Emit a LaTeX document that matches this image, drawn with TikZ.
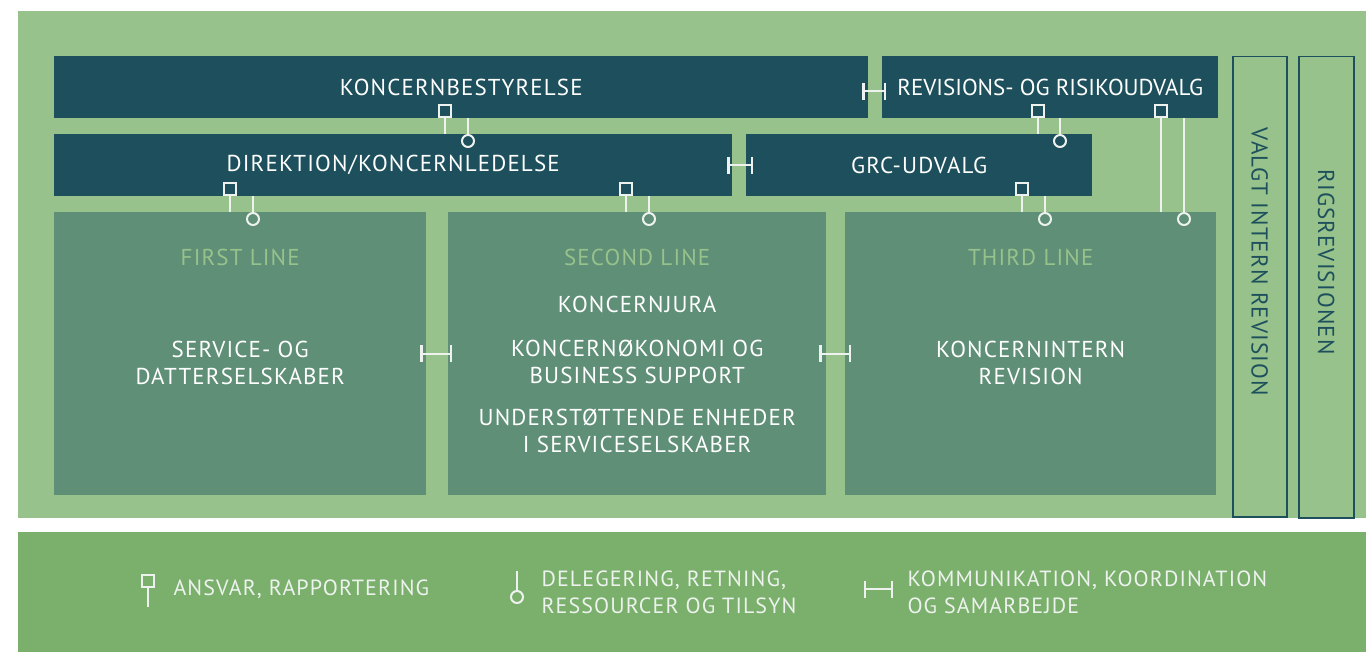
\documentclass[tikz,border=0pt]{standalone}
\usepackage{fontspec}
\setmainfont[LetterSpace=5]{PT Sans}
\usetikzlibrary{arrows.meta,positioning}
\definecolor{panelgreen}{HTML}{97C28C}
\definecolor{boardteal}{HTML}{1D505C}
\definecolor{linegreen}{HTML}{5F8F76}
\definecolor{legendgreen}{HTML}{7AB06B}
\definecolor{symwhite}{HTML}{EDF2EE}

\begin{document}
\begin{tikzpicture}[x=1pt,y=-1pt,
  board/.style={fill=boardteal,anchor=north west,inner sep=0pt,text=white,
    font=\fontsize{23}{27}\selectfont},
  linebox/.style={fill=linegreen,anchor=north west,inner sep=0pt},
  sidebox/.style={draw=boardteal,line width=1.5pt,anchor=north west,inner sep=0pt},
  header/.style={text=panelgreen,font=\fontsize{23}{27}\selectfont},
  body/.style={text=white,align=center,font=\fontsize{23}{27}\selectfont},
  legtext/.style={text=symwhite,align=left,anchor=west,font=\fontsize{22}{27}\selectfont},
  sq/.style={draw=symwhite,fill=#1,line width=2pt,minimum size=12pt,inner sep=0pt},
  ci/.style={circle,draw=symwhite,fill=#1,line width=2pt,minimum size=12pt,inner sep=0pt},
  link/.style={draw=symwhite,line width=2pt},
  comm/.style={draw=symwhite,line width=2.2pt,{Bar[width=17pt]}-{Bar[width=17pt]}}
]
\useasboundingbox[fill=white] (0,0) rectangle (1366,652);
% panels
\node[fill=panelgreen,anchor=north west,inner sep=0pt,minimum width=1348pt,
  minimum height=507pt] (panel) at (18,11) {};
\node[fill=legendgreen,anchor=north west,inner sep=0pt,minimum width=1348pt,
  minimum height=120pt] (legend) at (18,532) {};

% board level
\node[board,minimum width=814pt,minimum height=62pt] (kb) at (54,56) {KONCERNBESTYRELSE};
\node[board,minimum width=336pt,minimum height=62pt] (ris) at (882,56)
  {\addfontfeature{LetterSpace=0}REVISIONS- OG RISIKOUDVALG};
\node[board,minimum width=678pt,minimum height=62pt] (dir) at (54,134) {DIREKTION/KONCERNLEDELSE};
\node[board,minimum width=346pt,minimum height=62pt] (grc) at (746,134) {GRC-UDVALG};

% three lines
\node[linebox,minimum width=372pt,minimum height=283pt] (first) at (54,212) {};
\node[linebox,minimum width=378pt,minimum height=283pt] (second) at (448,212) {};
\node[linebox,minimum width=371pt,minimum height=283pt] (third) at (845,212) {};

\node[header] (h1) at ([yshift=-45pt]first.north) {FIRST LINE};
\node[header] (h2) at ([yshift=-45pt]second.north) {SECOND LINE};
\node[header] (h3) at ([yshift=-45pt]third.north) {THIRD LINE};

\node[body] (t1) at ([yshift=-151pt]first.north) {SERVICE- OG\\DATTERSELSKABER};
\node[body] (t2a) at ([yshift=-92pt]second.north) {KONCERNJURA};
\node[body] (t2b) at ([yshift=-150pt]second.north) {KONCERNØKONOMI OG\\BUSINESS SUPPORT};
\node[body] (t2c) at ([yshift=-219pt]second.north) {UNDERSTØTTENDE ENHEDER\\I SERVICESELSKABER};
\node[body] (t3) at ([yshift=-151pt]third.north) {KONCERNINTERN\\REVISION};

% external audit
\node[sidebox,minimum width=54pt,minimum height=460pt] (valgt) at (1232,56) {};
\node[sidebox,minimum width=55pt,minimum height=461pt] (rigs) at (1298,56) {};
\node[rotate=-90,text=boardteal,font=\fontsize{23}{27}\selectfont] at ([yshift=-206pt]valgt.north) {VALGT INTERN REVISION};
\node[rotate=-90,text=boardteal,font=\fontsize{23}{27}\selectfont] at ([yshift=-206pt]rigs.north) {RIGSREVISIONEN};

% responsibility / reporting
\foreach \n/\x/\y/\tgt in {s1/445/111/dir,s2/1038/111/grc,s3/1161/111/third,
                           s4/230/189/first,s5/626/189/second,s6/1022/189/third}{
  \node[sq=boardteal] (\n) at (\x,\y) {};
  \draw[link] (\n.south) -- (\n.south |- \tgt.north);
}
% delegation / direction
\foreach \n/\x/\y/\src/\col in {c1/468/141/kb/boardteal,c2/1060/141/ris/boardteal,
                                c3/1184/219/ris/linegreen,c4/253/219/dir/linegreen,
                                c5/649/219/dir/linegreen,c6/1045/219/grc/linegreen}{
  \node[ci=\col] (\n) at (\x,\y) {};
  \draw[link] (\n.north) -- (\n.north |- \src.south);
}
% communication
\draw[comm] ([xshift=-6pt,yshift=-4pt]kb.east) -- ([xshift=4pt,yshift=-4pt]ris.west);
\draw[comm] ([xshift=-5pt]dir.east) -- ([xshift=7pt]grc.west);
\draw[comm] ([xshift=-6pt]first.east) -- ([xshift=4pt]second.west);
\draw[comm] ([xshift=-7pt]second.east) -- ([xshift=6pt]third.west);

% legend
\node[sq=legendgreen] (lsq) at (148,581) {};
\draw[link] (lsq.south) -- ++(0,19);
\node[legtext] (l1) at (170,589) {ANSVAR, RAPPORTERING};
\node[ci=legendgreen] (lci) at (517,597) {};
\draw[link] (lci.north) -- ++(0,-19);
\node[legtext] (l2) at (538,592) {DELEGERING, RETNING,\\RESSOURCER OG TILSYN};
\coordinate (la) at (864,589);
\coordinate (lb) at (893,589);
\draw[comm] (la) -- (lb);
\node[legtext] (l3) at (904,592) {KOMMUNIKATION, KOORDINATION\\OG SAMARBEJDE};
\end{tikzpicture}
\end{document}
